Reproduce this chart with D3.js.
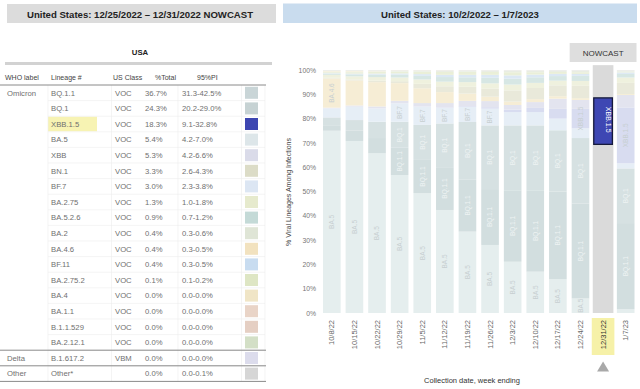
<!DOCTYPE html>
<html>
<head>
<meta charset="utf-8">
<script src="https://cdn.jsdelivr.net/npm/d3@7"></script>
<style>
  html, body { margin: 0; padding: 0; background: #fff; }
  svg { display: block; font-family: "Liberation Sans", Arial, sans-serif; }
</style>
</head>
<body>
<div id="chart"></div>
<script>
// ---- table (left panel) ----
var tableWho = ["Omicron", "", "", "", "", "", "", "", "", "", "", "", "", "", "", "", "", "Delta", "Other"];
var tableLineage = ["BQ.1.1", "BQ.1", "XBB.1.5", "BA.5", "XBB", "BN.1", "BF.7", "BA.2.75", "BA.5.2.6", "BA.2",
  "BA.4.6", "BF.11", "BA.2.75.2", "BA.4", "BA.1.1", "B.1.1.529", "BA.2.12.1", "B.1.617.2", "Other*"];
var tableClass = ["VOC", "VOC", "VOC", "VOC", "VOC", "VOC", "VOC", "VOC", "VOC", "VOC",
  "VOC", "VOC", "VOC", "VOC", "VOC", "VOC", "VOC", "VBM", ""];
var tableTotal = ["36.7%", "24.3%", "18.3%", "5.4%", "5.3%", "3.3%", "3.0%", "1.3%", "0.9%", "0.4%",
  "0.4%", "0.4%", "0.1%", "0.0%", "0.0%", "0.0%", "0.0%", "0.0%", "0.0%"];
var tablePI = ["31.3-42.5%", "20.2-29.0%", "9.1-32.8%", "4.2-7.0%", "4.2-6.6%", "2.6-4.3%", "2.3-3.8%", "1.0-1.8%", "0.7-1.2%", "0.3-0.6%",
  "0.3-0.5%", "0.3-0.5%", "0.1-0.2%", "0.0-0.0%", "0.0-0.0%", "0.0-0.0%", "0.0-0.0%", "0.0-0.0%", "0.0-0.1%"];

// ---- weekly proportions (right panel), % of sequences ----
var weeks = ["10/8/22", "10/15/22", "10/22/22", "10/29/22", "11/5/22", "11/12/22", "11/19/22",
  "11/26/22", "12/3/22", "12/10/22", "12/17/22", "12/24/22", "12/31/22", "1/7/23"];
var ba5    = [75.0, 70.8, 65.7, 56.8, 49.3, 42.4, 33.5, 28.0, 21.1, 17.0, 13.9, 6.0, 5.4, 1.5];
var bq11   = [2.0, 4.2, 6.3, 11.2, 13.7, 17.6, 21.5, 23.0, 29.4, 33.5, 36.1, 39.0, 36.7, 35.5];
var bq1    = [3.5, 4.4, 6.7, 10.7, 14.4, 18.0, 23.6, 26.2, 26.7, 26.7, 25.2, 27.0, 24.3, 22.5];
var bf7    = [3.7, 5.5, 5.5, 7.6, 7.5, 6.5, 6.2, 6.9, 5.5, 5.5, 4.8, 4.0, 3.0, 2.1];
var xbb15  = [0.0, 0.0, 0.0, 0.0, 0.1, 0.2, 0.3, 0.6, 1.0, 1.7, 4.0, 8.0, 18.3, 23.0];
var xbb    = [0.3, 0.5, 0.8, 1.0, 1.4, 1.7, 2.2, 2.5, 1.9, 2.4, 4.2, 3.7, 5.3, 5.1];
var ba46   = [12.0, 10.3, 10.0, 7.3, 6.1, 4.5, 3.0, 1.8, 1.4, 1.2, 1.0, 0.7, 0.4, 0.4];
var bn1    = [0.3, 0.4, 0.6, 0.8, 1.8, 2.4, 2.8, 3.4, 4.6, 4.6, 4.5, 5.1, 3.3, 4.6];
var ba275  = [1.2, 1.3, 1.5, 1.5, 1.8, 1.9, 1.9, 2.1, 2.4, 2.1, 1.9, 2.0, 1.3, 2.2];
var ba526  = [0.5, 0.8, 1.0, 1.2, 1.5, 1.9, 2.0, 2.3, 2.4, 2.3, 1.9, 2.1, 0.9, 1.5];
var bf11   = [0.2, 0.3, 0.4, 0.5, 0.7, 0.9, 1.0, 1.2, 1.4, 1.1, 0.9, 0.8, 0.4, 0.6];
var ba2752 = [0.4, 0.6, 0.7, 0.8, 1.0, 1.2, 1.3, 1.2, 1.3, 1.0, 0.8, 0.7, 0.1, 0.3];
var ba2    = [0.2, 0.2, 0.2, 0.2, 0.3, 0.4, 0.4, 0.5, 0.6, 0.6, 0.6, 0.7, 0.4, 0.5];
var ba4    = [0.4, 0.4, 0.3, 0.2, 0.2, 0.2, 0.1, 0.1, 0.1, 0.1, 0.0, 0.0, 0.0, 0.0];
var ba2121 = [0.1, 0.1, 0.1, 0.0, 0.0, 0.0, 0.0, 0.0, 0.0, 0.0, 0.0, 0.0, 0.0, 0.0];
var other  = [0.2, 0.2, 0.2, 0.2, 0.2, 0.2, 0.2, 0.2, 0.2, 0.2, 0.2, 0.2, 0.0, 0.2];

var yTicks = [0, 10, 20, 30, 40, 50, 60, 70, 80, 90, 100];
var nowcastWeek = "12/31/22";

// stack order, bottom to top
var series = [
  {key: "BA.5", values: ba5}, {key: "BQ.1.1", values: bq11}, {key: "BQ.1", values: bq1},
  {key: "BF.7", values: bf7}, {key: "XBB.1.5", values: xbb15}, {key: "XBB", values: xbb},
  {key: "BA.4.6", values: ba46}, {key: "BN.1", values: bn1}, {key: "BA.2.75", values: ba275},
  {key: "BA.5.2.6", values: ba526}, {key: "BF.11", values: bf11}, {key: "BA.2.75.2", values: ba2752},
  {key: "BA.2", values: ba2}, {key: "BA.4", values: ba4}, {key: "BA.2.12.1", values: ba2121},
  {key: "Other*", values: other}
];

// swatch colours in the table
var swatch = {
  "BQ.1.1": "#c9d5d7", "BQ.1": "#c6d2d3", "XBB.1.5": "#3d46b1", "BA.5": "#dde6e9", "XBB": "#dadbe9",
  "BN.1": "#dcdcc7", "BF.7": "#dce6f3", "BA.2.75": "#e6eacd", "BA.5.2.6": "#c4dad7", "BA.2": "#dfe5d6",
  "BA.4.6": "#f2e2bf", "BF.11": "#c8dcf0", "BA.2.75.2": "#dee6c4", "BA.4": "#f0e5c6", "BA.1.1": "#e9d4c7",
  "B.1.1.529": "#e5cfc3", "BA.2.12.1": "#d3dfc6", "B.1.617.2": "#dcdcec", "Other*": "#d6d6d6"
};
// washed-out fills used in the bar chart
var faded = {
  "BA.5": "#e5eeee", "BQ.1.1": "#d2dedf", "BQ.1": "#d6e1e2", "BF.7": "#e6eef6", "XBB.1.5": "#d8dcf0",
  "XBB": "#e3e4ef", "BA.4.6": "#f6edd5", "BN.1": "#e9e9da", "BA.2.75": "#eff1de", "BA.5.2.6": "#d7e7e4",
  "BF.11": "#dce8f4", "BA.2.75.2": "#eaefd8", "BA.2": "#e9ede3", "BA.4": "#f5eed9", "BA.2.12.1": "#e3ebd9",
  "Other*": "#e6e6e6"
};
var labelRule = {"BA.5": 5, "BQ.1.1": 10, "BQ.1": 10, "BF.7": 6, "BA.4.6": 11, "XBB.1.5": 8};

var W = 640, H = 389;
var svg = d3.select("#chart").append("svg").attr("width", W).attr("height", H);

// ================= left panel =================
var left = svg.append("g");
left.append("rect").attr("x", 7).attr("y", 4).attr("width", 269).attr("height", 19).attr("fill", "#dcdcdc");
left.append("text").attr("x", 140).attr("y", 17.5).attr("text-anchor", "middle")
  .attr("font-size", 9.6).attr("font-weight", "bold").attr("fill", "#222")
  .text("United States: 12/25/2022 \u2013 12/31/2022 NOWCAST");

left.append("text").attr("x", 140).attr("y", 55).attr("text-anchor", "middle")
  .attr("font-size", 7.8).attr("font-weight", "bold").attr("fill", "#222").text("USA");
left.append("rect").attr("x", 5).attr("y", 62).attr("width", 267).attr("height", 3).attr("fill", "#d2d2d2");

var cols = [
  {x: 5, head: "WHO label"}, {x: 51, head: "Lineage #"}, {x: 113, head: "US Class"},
  {x: 155, head: "%Total"}, {x: 197, head: "95%PI"}
];
left.selectAll("text.head").data(cols).enter().append("text")
  .attr("class", "head").attr("x", function(d) { return d.x; }).attr("y", 79.5)
  .attr("font-size", 7).attr("fill", "#444").text(function(d) { return d.head; });

var row0 = 85, rowH = 15.6;
var rows = d3.range(tableLineage.length);
var rowY = function(i) { return row0 + i * rowH; };

// highlight cell for XBB.1.5
left.append("rect").attr("x", 48).attr("y", rowY(2) + 0.5).attr("width", 49).attr("height", rowH - 1)
  .attr("fill", "#f7f3b3");

// light grid
left.selectAll("line.rowline").data(rows.slice(1)).enter().append("line")
  .attr("x1", 48).attr("x2", 265)
  .attr("y1", function(i) { return rowY(i); }).attr("y2", function(i) { return rowY(i); })
  .attr("stroke", "#ececec").attr("stroke-width", 0.6);
[48, 111.5, 178, 241.5, 265].forEach(function(x) {
  left.append("line").attr("x1", x).attr("x2", x).attr("y1", row0).attr("y2", rowY(19))
    .attr("stroke", "#ededed").attr("stroke-width", 0.6);
});
// group separators
left.append("line").attr("x1", 0).attr("x2", 266).attr("y1", row0).attr("y2", row0)
  .attr("stroke", "#8a8a8a").attr("stroke-width", 1);
[17, 18, 19].forEach(function(i) {
  left.append("line").attr("x1", 0).attr("x2", 266).attr("y1", rowY(i)).attr("y2", rowY(i))
    .attr("stroke", "#8a8a8a").attr("stroke-width", 1);
});

var cellFont = 7.7, cellColor = "#6f6f6f";
var cells = [
  {x: 7, arr: tableWho}, {x: 51, arr: tableLineage}, {x: 115, arr: tableClass},
  {x: 145, arr: tableTotal}, {x: 182, arr: tablePI}
];
cells.forEach(function(c) {
  left.selectAll(null).data(rows).enter().append("text")
    .attr("x", c.x).attr("y", function(i) { return rowY(i) + rowH / 2 + 2.7; })
    .attr("font-size", cellFont).attr("fill", cellColor)
    .text(function(i) { return c.arr[i]; });
});
left.selectAll("rect.sw").data(rows).enter().append("rect")
  .attr("class", "sw").attr("x", 245).attr("y", function(i) { return rowY(i) + 1.8; })
  .attr("width", 13).attr("height", rowH - 3.6)
  .attr("fill", function(i) { return swatch[tableLineage[i]]; });

// ================= right panel =================
var right = svg.append("g");
right.append("rect").attr("x", 283).attr("y", 3.5).attr("width", 354).attr("height", 19.5).attr("fill", "#c9dcee");
right.append("text").attr("x", 460).attr("y", 17.5).attr("text-anchor", "middle")
  .attr("font-size", 9.6).attr("font-weight", "bold").attr("fill", "#222")
  .text("United States: 10/2/2022 \u2013 1/7/2023");

var x = d3.scaleBand().domain(weeks).range([323, 634.5]).paddingInner(0.22).paddingOuter(0);
var y = d3.scaleLinear().domain([0, 100]).range([313, 70]);

var table = weeks.map(function(w, i) {
  var row = {week: w};
  series.forEach(function(s) { row[s.key] = s.values[i]; });
  return row;
});
var keys = series.map(function(s) { return s.key; });
var stacked = d3.stack().keys(keys)(table);

// NOWCAST header
var nx0 = x(weeks[11]) - 2, nx1 = x(weeks[13]) + x.bandwidth() + 2;
right.append("rect").attr("x", nx0).attr("y", 43).attr("width", nx1 - nx0).attr("height", 19).attr("fill", "#dedede");
right.append("text").attr("x", (nx0 + nx1) / 2).attr("y", 55.5).attr("text-anchor", "middle")
  .attr("font-size", 8).attr("fill", "#333").text("NOWCAST");

var layers = right.append("g").selectAll("g").data(stacked).enter().append("g")
  .attr("fill", function(d) { return faded[d.key]; });
layers.selectAll("rect").data(function(d) { return d; }).enter().append("rect")
  .attr("x", function(d) { return x(d.data.week); })
  .attr("y", function(d) { return y(d[1]); })
  .attr("width", x.bandwidth())
  .attr("height", function(d) { return Math.max(0, y(d[0]) - y(d[1])); });

// segment labels
var labelData = [];
stacked.forEach(function(layer) {
  var min = labelRule[layer.key];
  if (min === undefined) return;
  layer.forEach(function(d) {
    if (d.data.week === nowcastWeek) return;
    if (d[1] - d[0] >= min) labelData.push({key: layer.key, week: d.data.week, mid: (d[0] + d[1]) / 2});
  });
});
right.append("g").selectAll("text").data(labelData).enter().append("text")
  .attr("transform", function(d) {
    return "translate(" + (x(d.week) + x.bandwidth() / 2 + 2.3) + "," + y(d.mid) + ") rotate(-90)";
  })
  .attr("text-anchor", "middle").attr("font-size", 6.5)
  .attr("fill", function(d) { return (d.key === "BQ.1.1" || d.key === "BQ.1") ? "#eef3f3" : "#c7cfd1"; })
  .text(function(d) { return d.key; });

// nowcast column, greyed out with XBB.1.5 highlighted
var nxc = x(nowcastWeek);
right.append("rect").attr("x", nxc - 1.5).attr("y", y(102)).attr("width", x.bandwidth() + 3)
  .attr("height", y(0) - y(102)).attr("fill", "#dadada");
var xbbLayer = stacked.filter(function(l) { return l.key === "XBB.1.5"; })[0];
var xbbNow = xbbLayer.filter(function(d) { return d.data.week === nowcastWeek; })[0];
right.append("rect").attr("x", nxc - 0.5).attr("y", y(xbbNow[1]) - 2)
  .attr("width", x.bandwidth() + 1).attr("height", y(xbbNow[0]) - y(xbbNow[1]) + 2)
  .attr("fill", "#3e47b3").attr("stroke", "#161a3c").attr("stroke-width", 1.3);
right.append("text")
  .attr("transform", "translate(" + (nxc + x.bandwidth() / 2 + 2.5) + "," + y((xbbNow[0] + xbbNow[1]) / 2 + 1) + ") rotate(90)")
  .attr("text-anchor", "middle").attr("font-size", 7).attr("fill", "#fff").text("XBB.1.5");

// y axis
var yAxis = d3.axisLeft(y).tickValues(yTicks).tickSize(0).tickPadding(0)
  .tickFormat(function(d) { return d + "%"; });
var ya = right.append("g").attr("transform", "translate(316,0)").call(yAxis);
ya.select(".domain").remove();
ya.selectAll("text").attr("font-size", 6.8).attr("fill", "#777").attr("font-family", "Liberation Sans, Arial, sans-serif");

right.append("text").attr("transform", "translate(291,192) rotate(-90)").attr("text-anchor", "middle")
  .attr("font-size", 7).attr("fill", "#444").text("% Viral Lineages Among Infections");

// x axis
var hx = x(nowcastWeek) - 2.5;
right.append("rect").attr("x", hx).attr("y", 318).attr("width", x.bandwidth() + 5).attr("height", 37).attr("fill", "#f6f1a8");
right.append("path")
  .attr("d", "M" + (hx + x.bandwidth() / 2 + 2.5) + ",361.5 l6,10 l-12,0 Z").attr("fill", "#a9a9a9");

var xAxis = d3.axisBottom(x).tickSize(0).tickPadding(0);
var xa = right.append("g").attr("transform", "translate(0,313)").call(xAxis);
xa.select(".domain").remove();
xa.selectAll("text")
  .attr("transform", "translate(2.5,7) rotate(-90)")
  .attr("text-anchor", "end").attr("dy", 0).attr("y", 0).attr("x", 0)
  .attr("font-size", 7.5).attr("fill", function(d) { return d === nowcastWeek ? "#333" : "#666"; })
  .attr("font-family", "Liberation Sans, Arial, sans-serif");

right.append("text").attr("x", 472).attr("y", 383).attr("text-anchor", "middle")
  .attr("font-size", 7.5).attr("fill", "#333").text("Collection date, week ending");
</script>
</body>
</html>
